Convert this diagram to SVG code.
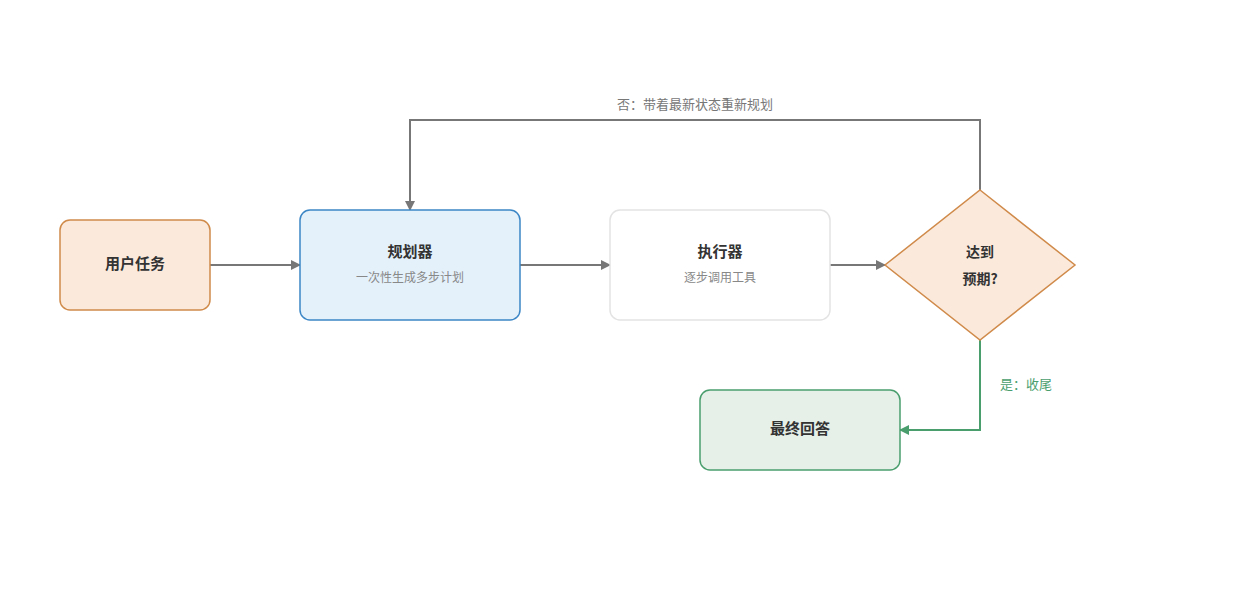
<svg xmlns="http://www.w3.org/2000/svg" width="1240" height="600" viewBox="0 0 1240 600">
<style>
text{font-family:"Noto Sans CJK SC","Noto Sans",sans-serif;text-anchor:middle}
.t{font-size:15px;font-weight:bold;fill:#333}
.s{font-size:12px;fill:#888}
.e{fill:none;stroke:#777;stroke-width:2}
.g{fill:none;stroke:#4a9e6e;stroke-width:2}
</style>
<defs>
<marker id="a" viewBox="0 0 10 10" refX="9" refY="5" markerWidth="10" markerHeight="10" markerUnits="userSpaceOnUse" orient="auto"><path d="M0,0L10,5L0,10z" fill="#777"/></marker>
<marker id="ag" viewBox="0 0 10 10" refX="9" refY="5" markerWidth="10" markerHeight="10" markerUnits="userSpaceOnUse" orient="auto"><path d="M0,0L10,5L0,10z" fill="#4a9e6e"/></marker>
</defs>
<rect width="1240" height="600" fill="#fff"/>
<g id="edges">
<path class="e" d="M210,265H300" marker-end="url(#a)" style="marker-end:url(#a)"/>
<path class="e" d="M520,265H610" style="marker-end:url(#a)"/>
<path class="e" d="M830,265H885" style="marker-end:url(#a)"/>
<path class="e" d="M980,190V120H410V210" style="marker-end:url(#a)"/>
<path class="g" d="M980,340V430H900" style="marker-end:url(#ag)"/>
<text x="695" y="109" style="font-size:13px;fill:#777">否：带着最新状态重新规划</text>
<text x="1026" y="389" style="font-size:13px;fill:#4a9e6e">是：收尾</text>
</g>
<g id="task"><rect x="60" y="220" width="150" height="90" rx="10" fill="#fbeadc" stroke="#d08a4a" stroke-width="1.5"/><text class="t" x="135" y="269">用户任务</text></g>
<g id="planner"><rect x="300" y="210" width="220" height="110" rx="10" fill="#e4f1fb" stroke="#3d87c6" stroke-width="1.5"/><text class="t" x="410" y="257">规划器</text><text class="s" x="410" y="282">一次性生成多步计划</text></g>
<g id="executor"><rect x="610" y="210" width="220" height="110" rx="10" fill="#fff" stroke="#e3e3e3" stroke-width="1.5"/><text class="t" x="720" y="257">执行器</text><text class="s" x="720" y="282">逐步调用工具</text></g>
<g id="check"><path d="M980,190L1075,265L980,340L885,265z" fill="#fbeadc" stroke="#d08a4a" stroke-width="1.5"/><text class="t" x="980" y="257" style="font-size:14px">达到</text><text class="t" x="980" y="284" style="font-size:14px">预期?</text></g>
<g id="final"><rect x="700" y="390" width="200" height="80" rx="10" fill="#e6f0e8" stroke="#4a9e6e" stroke-width="1.5"/><text class="t" x="800" y="434">最终回答</text></g>
</svg>
